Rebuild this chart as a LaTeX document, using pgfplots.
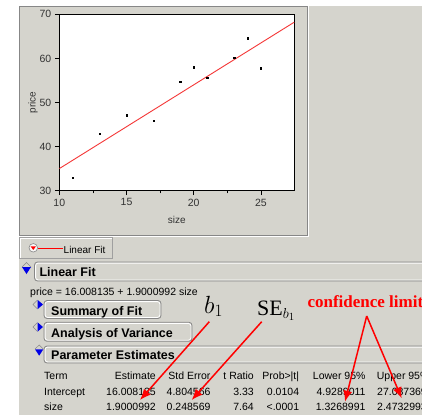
\documentclass[border=0pt]{standalone}
\usepackage{pgfplots}
\pgfplotsset{compat=1.18}
\usepackage[no-math]{fontspec}
\setmainfont{Liberation Sans}
\newfontfamily\serif{Liberation Serif}
\usetikzlibrary{arrows.meta}
\definecolor{jmpgray}{RGB}{213,212,205}
\definecolor{bordergray}{RGB}{135,135,135}
\definecolor{fitred}{RGB}{245,55,55}
\definecolor{jblue}{RGB}{0,0,230}
\newcommand{\tx}[3]{\node[anchor=base #1, inner sep=0pt, font=\fontsize{10.5}{12}\selectfont] at (#2) {#3};}
\begin{document}
\begin{tikzpicture}
\useasboundingbox (0pt,0pt) rectangle (422pt,-415pt);
\clip (0pt,0pt) rectangle (422pt,-415pt);
\begin{scope}[x=1pt,y=-1pt]
\fill[white] (0,0) rectangle (422,415);
\fill[jmpgray] (19,6) rectangle (422,415);
% plot panel
\draw[bordergray, line width=1pt] (19.5,235) -- (19.5,6.5) -- (307,6.5) -- (307,235) -- cycle;
\draw[white, line width=0.8pt] (308.6,6) -- (308.6,236.5) -- (19,236.5);
% legend box
\draw[white, line width=0.8pt] (20.5,257.5) -- (20.5,238.5) -- (111.7,238.5);
\draw[bordergray!80, line width=0.8pt] (19.5,237.5) rectangle (112.7,258.5);
\draw[bordergray, fill=white!85!jmpgray, line width=0.6pt] (33.3,247.8) circle (4.3);
\fill[red] (30.6,246.3) -- (36,246.3) -- (33.3,250) -- cycle;
\draw[red, line width=0.9pt] (38,248.5) -- (63,248.5);
\node[anchor=base west, inner sep=0pt, font=\fontsize{10}{12}\selectfont] at (63.5,253) {Linear Fit};
% Linear Fit header
\draw[white, line width=0.8pt, rounded corners=2.5pt] (35.6,263.1) rectangle (440,279.9);
\draw[bordergray, line width=0.8pt, rounded corners=3pt] (34.5,262) rectangle (441,281);
\draw[bordergray, line width=0.5pt] (22,267) -- (26.5,262.5) -- (31,267);
\fill[jblue] (22,267) -- (31,267) -- (26.5,274) -- cycle;
\node[anchor=base west, inner sep=0pt, font=\bfseries\fontsize{12.5}{14}\selectfont] at (39.3,276.7) {Linear Fit};
\node[anchor=base west, inner sep=0pt, font=\fontsize{10.5}{12}\selectfont] at (30,295) {price = 16.008135 + 1.9000992 size};
% Summary of Fit
\draw[white, line width=0.8pt, rounded corners=2.5pt] (45.1,301.6) rectangle (159.9,317.4);
\draw[bordergray, line width=0.8pt, rounded corners=3pt] (44,300.5) rectangle (161,318.5);
\draw[bordergray, line width=0.5pt] (37.5,300) -- (33,304.5) -- (37.5,309);
\fill[jblue] (37.7,300) -- (37.7,309) -- (43,304.5) -- cycle;
\node[anchor=base west, inner sep=0pt, font=\bfseries\fontsize{12.5}{14}\selectfont] at (51,315) {Summary of Fit};
% Analysis of Variance
\draw[white, line width=0.8pt, rounded corners=2.5pt] (45.1,323.4) rectangle (190.9,340.2);
\draw[bordergray, line width=0.8pt, rounded corners=3pt] (44,322.3) rectangle (192,341.3);
\draw[bordergray, line width=0.5pt] (37.5,322.5) -- (33,327) -- (37.5,331.5);
\fill[jblue] (37.7,322.5) -- (37.7,331.5) -- (43,327) -- cycle;
\node[anchor=base west, inner sep=0pt, font=\bfseries\fontsize{12.5}{14}\selectfont] at (51,337.3) {Analysis of Variance};
% Parameter Estimates
\draw[white, line width=0.8pt, rounded corners=2.5pt] (45.1,347.1) rectangle (440,361.9);
\draw[bordergray, line width=0.8pt, rounded corners=3pt] (44,346) rectangle (441,363);
\draw[bordergray, line width=0.5pt] (35,349) -- (39.2,345) -- (43.3,349);
\fill[jblue] (35,349.3) -- (43.3,349.3) -- (39.2,355.7) -- cycle;
\node[anchor=base west, inner sep=0pt, font=\bfseries\fontsize{12.5}{14}\selectfont] at (51,359.5) {Parameter Estimates};
% table
\tx{west}{44,379.5}{Term}
\tx{east}{156,379.5}{Estimate}
\tx{east}{210.7,379.5}{Std Error}
\tx{east}{254,379.5}{t Ratio}
\tx{east}{299.3,379.5}{Prob>|t|}
\tx{east}{365.7,379.5}{Lower 95\%}
\tx{west}{376.7,379.5}{Upper 95\%}
\tx{west}{44,395}{Intercept}
\tx{east}{156,395}{16.008135}
\tx{east}{210.7,395}{4.804566}
\tx{east}{254,395}{3.33}
\tx{east}{299.3,395}{0.0104}
\tx{east}{365.7,395}{4.9289011}
\tx{east}{427,395}{27.087369}
\tx{west}{44,410.5}{size}
\tx{east}{156,410.5}{1.9000992}
\tx{east}{210.7,410.5}{0.248569}
\tx{east}{254,410.5}{7.64}
\tx{east}{299.3,410.5}{<.0001}
\tx{east}{365.7,410.5}{1.3268991}
\tx{east}{427,410.5}{2.4732993}
\end{scope}
\begin{axis}[
  at={(59.3pt,-190.7pt)}, anchor=south west,
  scale only axis, width=235pt, height=176.4pt,
  xmin=10, xmax=27.48, ymin=30, ymax=70,
  xtick={10,15,20,25}, minor xtick={12.5,17.5,22.5},
  ytick={30,40,50,60,70},
  xtick pos=lower, ytick pos=left,
  tick align=outside,
  major tick length=4.5pt, minor tick length=2.7pt,
  every tick/.style={black, line width=0.8pt},
  axis line style={black, line width=0.9pt},
  axis background/.style={fill=white},
  /pgf/number format/assume math mode=true,
  ticklabel style={font=\fontsize{10.5}{12}\selectfont, text=black!80},
  xlabel={size}, ylabel={price},
  label style={font=\fontsize{10}{12}\selectfont, text=black!80},
  x label style={at={(axis description cs:0.5,-0.167)}, anchor=center},
  y label style={at={(axis description cs:-0.112,0.5)}, anchor=center},
]
\addplot[fitred, line width=0.9pt] coordinates {(10,35.0091) (27.48,68.2229)};
\addplot[only marks, mark=square*, mark size=0.65pt, black] coordinates {
(11,32.9) (13,42.9) (15,47.1) (17,45.8) (19,54.7) (20,58.0) (21,55.7) (23,60.1) (24,64.6) (25,57.8)};
\end{axis}
\begin{scope}[x=1pt,y=-1pt]
\node[anchor=base west, inner sep=0pt, font=\fontsize{24}{28}\selectfont] at (204,313) {$b_1$};
\node[anchor=base west, inner sep=0pt, font=\serif\fontsize{22}{26}\selectfont] at (257,315) {SE$_{b_1}$};
\node[anchor=base west, inner sep=0pt, text=red, font=\serif\bfseries\fontsize{17}{20}\selectfont] at (307.3,307.3) {confidence limit};
\draw[red, line width=1.5pt, -{Latex[length=11pt,width=9pt]}] (209.3,321.7) -- (140,400);
\draw[red, line width=1.5pt, -{Latex[length=11pt,width=9pt]}] (261.7,321.7) -- (191.7,400);
\draw[red, line width=1.5pt, -{Latex[length=11pt,width=9pt]}] (366.7,316) -- (345,401.7);
\draw[red, line width=1.5pt, -{Latex[length=11pt,width=9pt]}] (366.7,316) -- (401.7,398.3);
\end{scope}
\end{tikzpicture}
\end{document}
